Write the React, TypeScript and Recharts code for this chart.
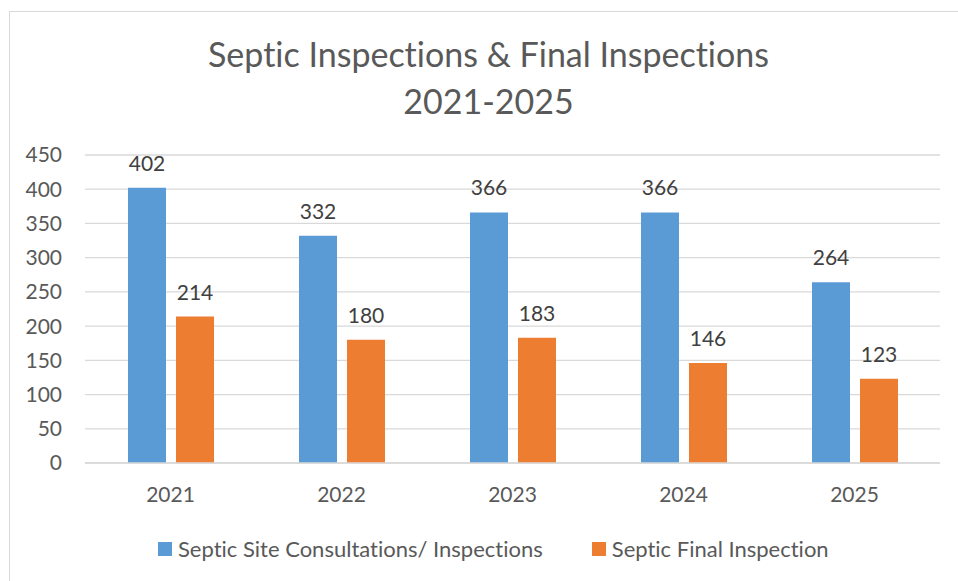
import React from "react";
import { BarChart, Bar, XAxis, YAxis, CartesianGrid, LabelList } from "recharts";

const years = ["2021", "2022", "2023", "2024", "2025"];
const consultations = [402, 332, 366, 366, 264];
const finals = [214, 180, 183, 146, 123];
const yTicks = [0, 50, 100, 150, 200, 250, 300, 350, 400, 450];
const seriesNames = ["Septic Site Consultations/ Inspections", "Septic Final Inspection"];
const colors = ["#5B9BD5", "#ED7D31"];

const data = years.map((y, i) => ({ year: y, a: consultations[i], b: finals[i] }));

const FONT = "Lato, 'Open Sans', sans-serif";
const TXT = "#595959";

export default function App() {
  return (
    <div style={{ position: "absolute", left: 0, top: 0, width: 958, height: 581, overflow: "hidden", background: "#fff", fontFamily: FONT, fontVariantLigatures: "none" }}>
      <div style={{ position: "absolute", left: 9, top: 11, width: 980, height: 600, border: "1px solid #D9D9D9", boxSizing: "border-box" }} />
      <div style={{ position: "absolute", left: 0, top: 30, width: 977, textAlign: "center", fontSize: 34, lineHeight: "47px", color: TXT }}>
        <div>Septic Inspections &amp; Final Inspections</div>
        <div>2021-2025</div>
      </div>
      <div style={{ position: "absolute", left: 0, top: 0 }}>
        <BarChart width={958} height={581} data={data} margin={{ top: 155, right: 18, left: 25, bottom: 78 }} barGap={10} barSize={38}>
          <CartesianGrid vertical={false} stroke="#D9D9D9" strokeWidth={1.3} />
          <XAxis dataKey="year" axisLine={{ stroke: "#D9D9D9", strokeWidth: 1.3 }} tickLine={false} tickSize={0} tickMargin={24} height={40}
            tick={{ fill: TXT, fontSize: 21, fontFamily: FONT }} />
          <YAxis domain={[0, 450]} ticks={yTicks} width={60} axisLine={false} tickLine={false} tickSize={0} tickMargin={23}
            tick={{ fill: TXT, fontSize: 21, fontFamily: FONT }} interval={0} />
          <Bar dataKey="a" name={seriesNames[0]} fill={colors[0]} isAnimationActive={false}>
            <LabelList dataKey="a" position="top" offset={17} fill="#404040" fontSize={21} fontFamily={FONT} />
          </Bar>
          <Bar dataKey="b" name={seriesNames[1]} fill={colors[1]} isAnimationActive={false}>
            <LabelList dataKey="b" position="top" offset={17} fill="#404040" fontSize={21} fontFamily={FONT} />
          </Bar>
        </BarChart>
      </div>
      <div style={{ position: "absolute", left: 158, top: 537, display: "flex", alignItems: "center", fontSize: 22, color: TXT, lineHeight: "24px" }}>
        {seriesNames.map((n, i) => (
          <div key={n} style={{ display: "flex", alignItems: "center", marginRight: i === 0 ? 49 : 0 }}>
            <span style={{ display: "inline-block", width: 14, height: 14, background: colors[i], marginRight: 6 }} />
            <span>{n}</span>
          </div>
        ))}
      </div>
    </div>
  );
}
